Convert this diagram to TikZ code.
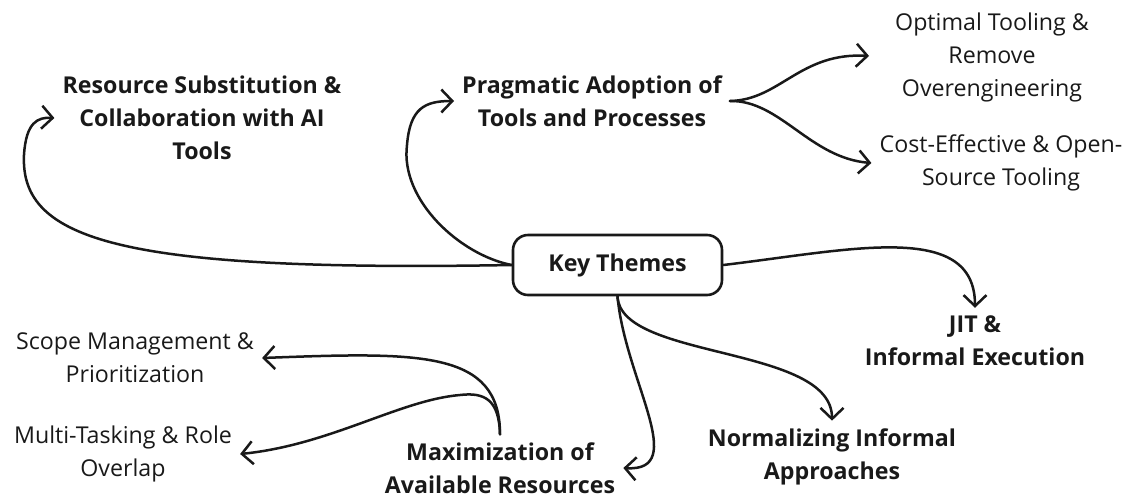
\documentclass[tikz,border=0pt]{standalone}
\usepackage{fontspec}
\setmainfont{Open Sans}
\usepackage{tikz}
\usetikzlibrary{arrows.meta}
\usetikzlibrary{positioning}

\begin{document}
\begin{tikzpicture}[x=1pt, y=-1pt,
		every node/.style={align=center, inner sep=8pt, text=black!90, font=\fontsize{23.2}{33}\selectfont},
		theme/.style={font=\fontsize{23.2}{33}\selectfont\bfseries},
		leaf/.style={},
		keybox/.style={draw=black!90, line width=2.6pt, rounded corners=15pt, minimum width=209pt, minimum height=60pt, font=\fontsize{23.2}{33}\selectfont\bfseries},
		link/.style={draw=black!90, line width=2.5pt, line cap=round, -{Straight Barb[length=11pt, width=23pt]}}]
	\useasboundingbox (0,0) rectangle (1133,499);

	% centre and the themes around it
	\node[keybox] (key) at (617.5, 265) {Key Themes};
	\node[theme] (subst) at (202, 118) {Resource Substitution \&\\Collaboration with AI\\Tools};
	\node[theme] (pragm) at (592, 101) {Pragmatic Adoption of\\Tools and Processes};
	\node[theme] (jit) at (975, 341) {JIT \&\\Informal Execution};
	\node[theme] (normal) at (832, 457) {Normalizing Informal\\Approaches};
	\node[theme] (maxim) at (500, 468) {Maximization of\\Available Resources};

	% second level
	\node[leaf] (optim) at (992, 57) {Optimal Tooling \&\\Remove\\Overengineering};
	\node[leaf] (costeff) at (1001, 163) {Cost-Effective \& Open-\\Source Tooling};
	\node[leaf] (scope) at (135, 358) {Scope Management \&\\Prioritization};
	\node[leaf] (multi) at (123, 454) {Multi-Tasking \& Role\\Overlap};

	\draw[link] (key.west) .. controls (120,272) and (20,240) .. (24,155) .. controls (26,122) and (38,117) .. (subst.west);
	\draw[link] (key.west) .. controls (460,255) and (400,200) .. (407,145) .. controls (410,108) and (425,101) .. (pragm.west);
	\draw[link] (key.east) .. controls (850,250) and (975,220) .. (jit.north);
	\draw[link] (key.south) .. controls (620,360) and (832,345) .. (normal.north);
	\draw[link] (key.south) .. controls (625,380) and (690,472) .. (maxim.east);

	\draw[link, shorten >=18pt] (pragm.east) .. controls (780,100) and (800,52) .. (optim.west);
	\draw[link] (pragm.east) .. controls (780,100) and (810,158) .. (costeff.west);
	\draw[link] (maxim.north) .. controls (500,350) and (420,352) .. (scope.east);
	\draw[link] (maxim.north) .. controls (499,400) and (485,392) .. (460,395) .. controls (400,400) and (330,445) .. (multi.east);
\end{tikzpicture}
\end{document}
